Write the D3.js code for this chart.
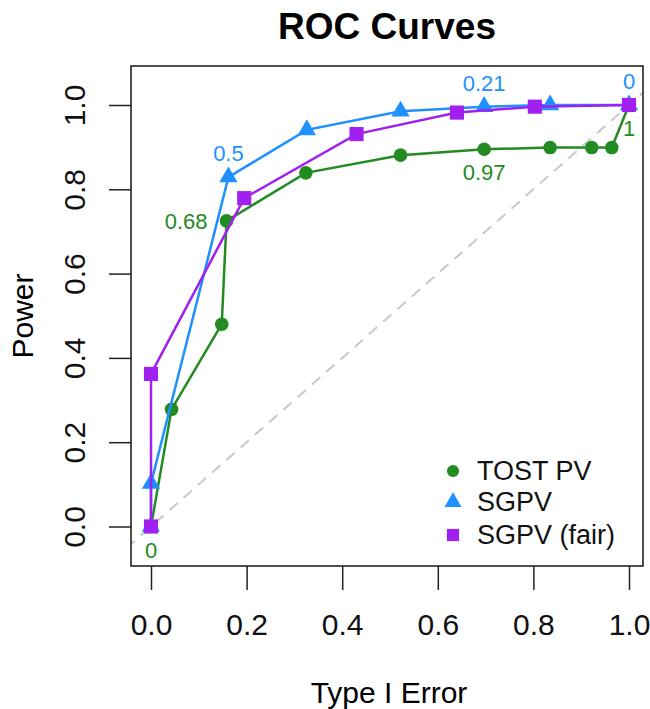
<!DOCTYPE html>
<html>
<head>
<meta charset="utf-8">
<script src="https://cdn.jsdelivr.net/npm/d3@7"></script>
<style>
  html, body { margin: 0; padding: 0; background: #fff; }
  svg { display: block; font-family: "Liberation Sans", Arial, sans-serif; }
</style>
</head>
<body>
<svg id="chart" width="650" height="709"></svg>
<script>
// ---- data ----
const xTicks = [0, 0.2, 0.4, 0.6, 0.8, 1.0];
const yTicks = [0, 0.2, 0.4, 0.6, 0.8, 1.0];

const tostX = [0, 0.043, 0.148, 0.158, 0.324, 0.522, 0.697, 0.835, 0.922, 0.964, 1.0];
const tostY = [0, 0.278, 0.480, 0.725, 0.839, 0.881, 0.895, 0.899, 0.899, 0.899, 1.0];

const sgpvX = [0, 0, 0.162, 0.326, 0.522, 0.697, 0.835, 1.0];
const sgpvY = [0, 0.102, 0.829, 0.941, 0.985, 0.996, 1.0, 1.0];

const fairX = [0, 0, 0.195, 0.430, 0.640, 0.803, 1.0];
const fairY = [0, 0.362, 0.779, 0.931, 0.982, 0.996, 1.0];

const seriesNames = ["TOST PV", "SGPV", "SGPV (fair)"];
const seriesColors = ["#228B22", "#1E90FF", "#A020F0"];

// point labels: series index, point index, text, position (below/left/above)
const labelSeries = [0, 0, 0, 0, 1, 1, 1];
const labelPoint  = [0, 3, 6, 10, 2, 5, 7];
const labelText   = ["0", "0.68", "0.97", "1", "0.5", "0.21", "0"];
const labelPos    = ["below", "left", "below", "below", "above", "above", "above"];

// ---- layout ----
const svg = d3.select("#chart");
const box = { left: 131, right: 643, top: 66, bottom: 566 };
const x = d3.scaleLinear().domain([0, 1]).range([151, 629]);
const y = d3.scaleLinear().domain([0, 1]).range([526.5, 105]);

svg.append("defs").append("clipPath").attr("id", "clip")
  .append("rect")
  .attr("x", box.left).attr("y", box.top)
  .attr("width", box.right - box.left).attr("height", box.bottom - box.top);

// title
svg.append("text")
  .attr("x", 387).attr("y", 39)
  .attr("text-anchor", "middle")
  .attr("font-size", 37).attr("font-weight", "bold")
  .text("ROC Curves");

// axis labels
svg.append("text")
  .attr("x", 389).attr("y", 703)
  .attr("text-anchor", "middle")
  .attr("font-size", 30)
  .text("Type I Error");
svg.append("text")
  .attr("transform", "translate(33,316) rotate(-90)")
  .attr("text-anchor", "middle")
  .attr("font-size", 30)
  .text("Power");

// x axis
const gx = svg.append("g")
  .attr("transform", `translate(0,${box.bottom})`)
  .call(d3.axisBottom(x).tickValues(xTicks).tickFormat(d3.format(".1f"))
        .tickSize(24).tickPadding(24));
gx.select(".domain").remove();
gx.selectAll("line").attr("stroke", "#222").attr("stroke-width", 1.5);
gx.selectAll("text").attr("font-size", 30).attr("fill", "#111")
  .attr("font-family", "Liberation Sans, Arial, sans-serif");

// y axis
const gy = svg.append("g")
  .attr("transform", `translate(${box.left},0)`)
  .call(d3.axisLeft(y).tickValues(yTicks).tickFormat(d3.format(".1f"))
        .tickSize(22));
gy.select(".domain").remove();
gy.selectAll("line").attr("stroke", "#222").attr("stroke-width", 1.5);
gy.selectAll("text")
  .attr("x", null).attr("dy", null)
  .attr("transform", "translate(-46,0) rotate(-90)")
  .attr("text-anchor", "middle")
  .attr("font-size", 30).attr("fill", "#111")
  .attr("font-family", "Liberation Sans, Arial, sans-serif");

// diagonal reference line y = x (clipped to box)
svg.append("line")
  .attr("clip-path", "url(#clip)")
  .attr("x1", x(-0.2)).attr("y1", y(-0.2))
  .attr("x2", x(1.2)).attr("y2", y(1.2))
  .attr("stroke", "#c8c8c8").attr("stroke-width", 2)
  .attr("stroke-dasharray", "11,8");

// series
const series = [
  { xs: tostX, ys: tostY, shape: d3.symbolCircle, size: 145 },
  { xs: sgpvX, ys: sgpvY, shape: d3.symbolTriangle, size: 145 },
  { xs: fairX, ys: fairY, shape: d3.symbolSquare, size: 200 }
];
const line = d3.line().x(d => x(d[0])).y(d => y(d[1]));

series.forEach((s, i) => {
  const pts = s.xs.map((v, j) => [v, s.ys[j]]);
  const g = svg.append("g");
  g.append("path").datum(pts)
    .attr("d", line).attr("fill", "none")
    .attr("stroke", seriesColors[i]).attr("stroke-width", 2.5);
  g.selectAll("path.pt").data(pts).enter().append("path")
    .attr("class", "pt")
    .attr("transform", d => `translate(${x(d[0])},${y(d[1])})`)
    .attr("d", d3.symbol().type(s.shape).size(s.size))
    .attr("fill", seriesColors[i]);
});

// point labels
labelText.forEach((t, k) => {
  const s = series[labelSeries[k]];
  const px = x(s.xs[labelPoint[k]]);
  const py = y(s.ys[labelPoint[k]]);
  const el = svg.append("text")
    .attr("font-size", 22)
    .attr("fill", seriesColors[labelSeries[k]])
    .text(t);
  if (labelPos[k] === "below") {
    el.attr("x", px).attr("y", py + 31).attr("text-anchor", "middle");
  } else if (labelPos[k] === "above") {
    el.attr("x", px).attr("y", py - 16).attr("text-anchor", "middle");
  } else {
    el.attr("x", px - 19).attr("y", py + 8).attr("text-anchor", "end");
  }
});

// plot box
svg.append("rect")
  .attr("x", box.left).attr("y", box.top)
  .attr("width", box.right - box.left).attr("height", box.bottom - box.top)
  .attr("fill", "none").attr("stroke", "#222").attr("stroke-width", 1.6);

// legend
const legY = [471, 502, 535];
const legSizes = [115, 125, 150];
seriesNames.forEach((n, i) => {
  svg.append("path")
    .attr("transform", `translate(453,${legY[i]})`)
    .attr("d", d3.symbol().type(series[i].shape).size(legSizes[i]))
    .attr("fill", seriesColors[i]);
  svg.append("text")
    .attr("x", 477).attr("y", legY[i] + 9)
    .attr("font-size", 27).attr("fill", "#111")
    .text(n);
});
</script>
</body>
</html>
